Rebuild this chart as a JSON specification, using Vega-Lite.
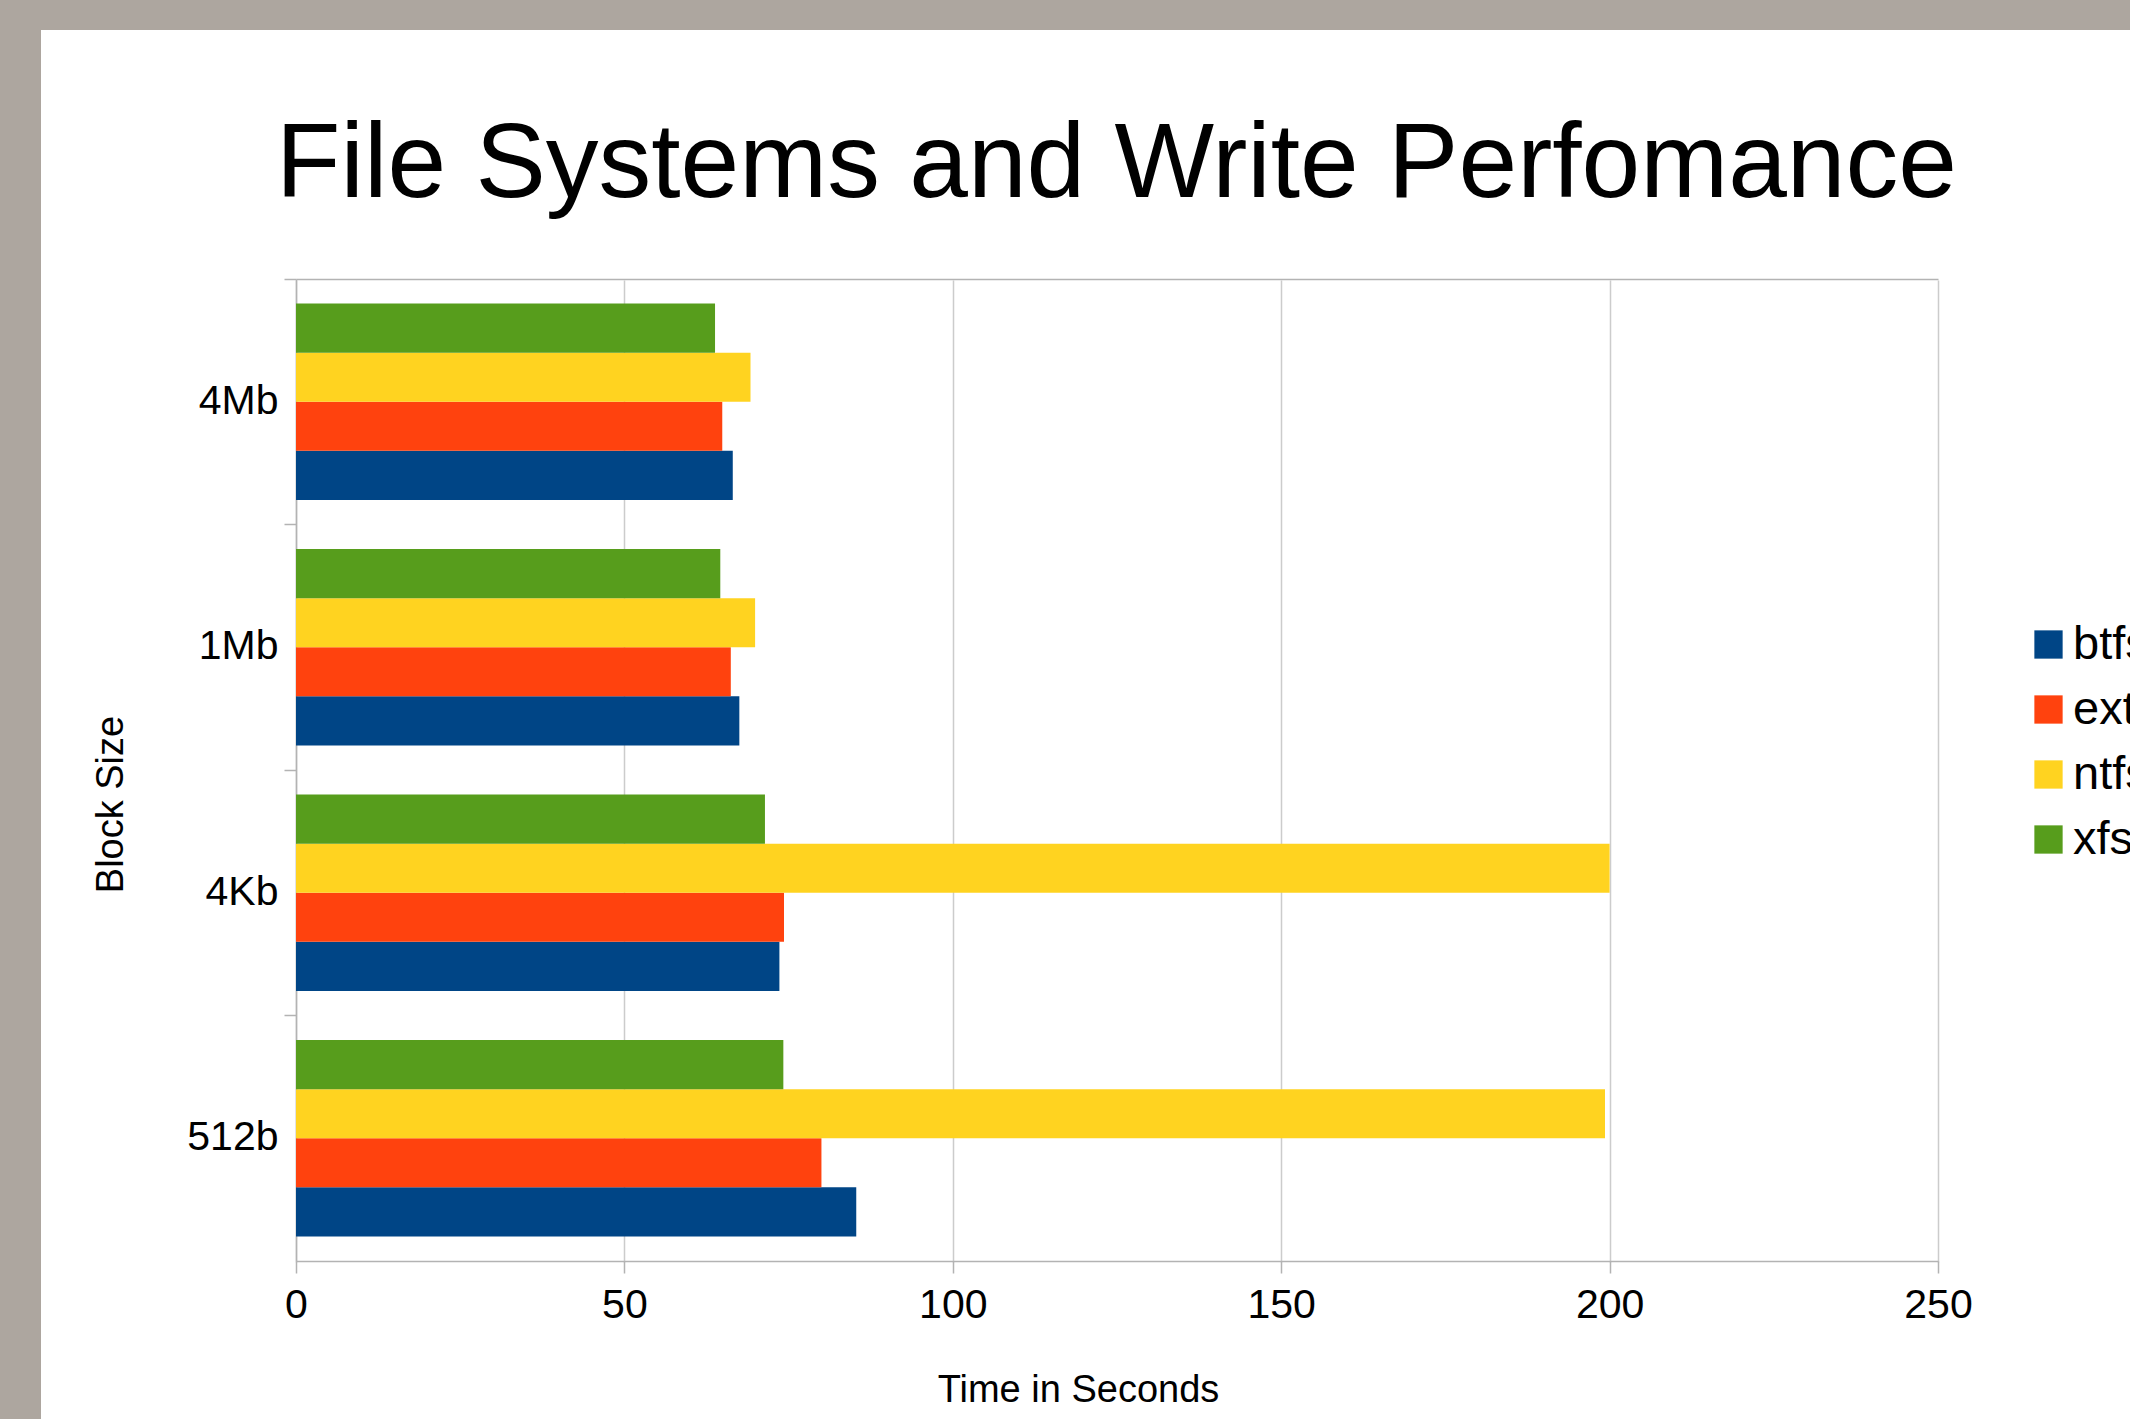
{
  "$schema": "https://vega.github.io/schema/vega-lite/v6.json",
  "autosize": "none",
  "width": 2089,
  "height": 1481,
  "padding": {"left": 41, "top": 30, "right": 0, "bottom": 0},
  "background": "#ada69f",
  "config": {
    "view": {"fill": "white", "stroke": null},
    "font": "Liberation Sans",
    "axis": {"labelFont": "Liberation Sans", "titleFont": "Liberation Sans"},
    "legend": {"labelFont": "Liberation Sans"}
  },
  "title": {
    "text": "File Systems and Write Perfomance",
    "font": "Liberation Sans",
    "fontSize": 105.5,
    "fontWeight": "normal",
    "color": "#000000",
    "anchor": "middle",
    "frame": "group",
    "offset": 0,
    "baseline": "alphabetic",
    "dx": 31,
    "dy": 272
  },
  "data": {
    "values": [
      {"block": "4Mb", "fs": "btfs", "time": 66.5},
      {"block": "4Mb", "fs": "ext4", "time": 64.9},
      {"block": "4Mb", "fs": "ntfs", "time": 69.2},
      {"block": "4Mb", "fs": "xfs", "time": 63.8},
      {"block": "1Mb", "fs": "btfs", "time": 67.5},
      {"block": "1Mb", "fs": "ext4", "time": 66.2},
      {"block": "1Mb", "fs": "ntfs", "time": 69.9},
      {"block": "1Mb", "fs": "xfs", "time": 64.6},
      {"block": "4Kb", "fs": "btfs", "time": 73.6},
      {"block": "4Kb", "fs": "ext4", "time": 74.3},
      {"block": "4Kb", "fs": "ntfs", "time": 200.0},
      {"block": "4Kb", "fs": "xfs", "time": 71.4},
      {"block": "512b", "fs": "btfs", "time": 85.3},
      {"block": "512b", "fs": "ext4", "time": 80.0},
      {"block": "512b", "fs": "ntfs", "time": 199.3},
      {"block": "512b", "fs": "xfs", "time": 74.2}
    ]
  },
  "layer": [
    {
      "mark": {"type": "bar"},
      "encoding": {
        "y": {
          "field": "block",
          "type": "nominal",
          "sort": ["4Mb", "1Mb", "4Kb", "512b"],
          "scale": {"range": [249, 1231], "paddingInner": 0.2, "paddingOuter": 0.1},
          "axis": {
            "orient": "left",
            "offset": -255,
            "title": "Block Size",
            "titleFontSize": 38,
            "titleFontWeight": "normal",
            "titleColor": "#000000",
            "titleAngle": 270,
            "titleBaseline": "alphabetic",
            "titleAlign": "center",
            "titleX": -174,
            "titleY": 774,
            "labelFontSize": 41,
            "labelColor": "#000000",
            "labelPadding": 18,
            "ticks": false,
            "tickSize": 0,
            "domainColor": "#b3b3b3",
            "domainWidth": 1.5,
            "grid": false
          }
        },
        "yOffset": {
          "field": "fs",
          "type": "nominal",
          "scale": {"domain": ["xfs", "ntfs", "ext4", "btfs"], "paddingInner": 0, "paddingOuter": 0}
        },
        "x": {
          "field": "time",
          "type": "quantitative",
          "scale": {"domain": [0, 250], "range": [255, 1897], "nice": false, "zero": true},
          "axis": {
            "orient": "bottom",
            "offset": -250,
            "values": [0, 50, 100, 150, 200, 250],
            "title": "Time in Seconds",
            "titleFontSize": 38,
            "titleFontWeight": "normal",
            "titleColor": "#000000",
            "titleBaseline": "alphabetic",
            "titleAlign": "center",
            "titleX": 1037,
            "titleY": 140,
            "labelFontSize": 41,
            "labelColor": "#000000",
            "labelPadding": 12,
            "labelFlush": false,
            "tickSize": 12,
            "tickColor": "#b3b3b3",
            "tickWidth": 1.5,
            "domainColor": "#b3b3b3",
            "domainWidth": 1.5,
            "grid": true,
            "gridColor": "#cccccc",
            "gridWidth": 1.5
          }
        },
        "color": {
          "field": "fs",
          "type": "nominal",
          "scale": {"domain": ["btfs", "ext4", "ntfs", "xfs"], "range": ["#004586", "#ff420e", "#ffd320", "#579d1c"]},
          "legend": {
            "orient": "none",
            "legendX": 1984,
            "legendY": 591,
            "title": null,
            "padding": 0,
            "symbolType": "square",
            "symbolSize": 800,
            "symbolStrokeWidth": 0,
            "symbolOpacity": 1,
            "labelFontSize": 47,
            "labelColor": "#000000",
            "labelOffset": 1,
            "rowPadding": 17
          }
        }
      }
    },
    {
      "mark": {"type": "bar", "opacity": 0},
      "encoding": {
        "y": {
          "field": "block",
          "type": "nominal",
          "sort": ["4Mb", "1Mb", "4Kb", "512b"],
          "axis": {
            "orient": "left",
            "offset": -255,
            "title": null,
            "labels": false,
            "domain": false,
            "grid": false,
            "ticks": true,
            "tickSize": 12,
            "tickColor": "#b3b3b3",
            "tickWidth": 1.5,
            "bandPosition": -0.125
          }
        },
        "yOffset": {"field": "fs", "type": "nominal"},
        "x": {
          "field": "time",
          "type": "quantitative",
          "axis": {
            "orient": "top",
            "offset": -249,
            "title": null,
            "labels": false,
            "ticks": false,
            "grid": false,
            "domainColor": "#b3b3b3",
            "domainWidth": 1.5
          }
        }
      }
    }
  ],
  "resolve": {"axis": {"x": "independent", "y": "independent"}}
}
